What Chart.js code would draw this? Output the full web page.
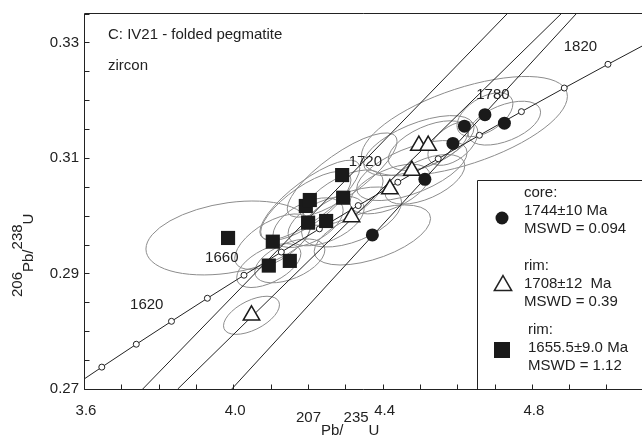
<!DOCTYPE html>
<html>
<head>
<meta charset="utf-8">
<script src="https://cdn.jsdelivr.net/npm/chart.js@4.4.1/dist/chart.umd.min.js"></script>
<style>
  html, body { margin: 0; padding: 0; background: #fff; }
  #wrap { width: 642px; height: 438px; position: relative; }
</style>
</head>
<body>
<div id="wrap"><canvas id="concordia"></canvas></div>
<script>
// concordia curve, 20 Ma steps (207Pb/235U, 206Pb/238U)
const concAges = [1540, 1560, 1580, 1600, 1620, 1640, 1660, 1680, 1700, 1720, 1740, 1760, 1780, 1800, 1820, 1840];
const concX = [3.5570, 3.6477, 3.7401, 3.8344, 3.9306, 4.0287, 4.1287, 4.2307, 4.3348, 4.4409, 4.5491, 4.6595, 4.7721, 4.8869, 5.0040, 5.1234];
const concY = [0.26985, 0.27379, 0.27775, 0.28172, 0.28571, 0.28970, 0.29371, 0.29773, 0.30176, 0.30580, 0.30986, 0.31393, 0.31802, 0.32211, 0.32622, 0.33034];

// age labels along the curve
const ageLabels = ["1620", "1660", "1720", "1780", "1820"];
const ageLabelX = [3.7681, 3.9692, 4.3539, 4.6957, 4.9302];
const ageLabelY = [0.28457, 0.29270, 0.30934, 0.32096, 0.32927];

// discordia lines (end points)
const discSqX = [3.7574, 4.7359];
const discSqY = [0.2700, 0.3351];
const discTriX = [3.8512, 4.8807];
const discTriY = [0.2700, 0.3351];
const discCoreX = [3.9960, 4.9209];
const discCoreY = [0.2700, 0.3351];

// core (circles)
const coreX = [4.3727, 4.5134, 4.5885, 4.6193, 4.6743, 4.7265];
const coreY = [0.29667, 0.30630, 0.31252, 0.31551, 0.31750, 0.31603];
const coreErrX = [0.156, 0.107, 0.067, 0.276, 0.075, 0.097];
const coreErrY = [0.0052, 0.0043, 0.0038, 0.0086, 0.0038, 0.0038];
const coreRho = [0.55, 0.55, 0.5, 0.6, 0.5, 0.5];

// rim (triangles)
const triX = [4.0488, 4.3169, 4.4196, 4.4786, 4.4973, 4.5223];
const triY = [0.28276, 0.29978, 0.30462, 0.30782, 0.31214, 0.31214];
const triErrX = [0.075, 0.134, 0.107, 0.148, 0.148, 0.107];
const triErrY = [0.0033, 0.0052, 0.0043, 0.0052, 0.0052, 0.0043];
const triRho = [0.55, 0.5, 0.55, 0.6, 0.6, 0.55];

// rim (squares)
const sqX = [3.986, 4.1059, 4.0952, 4.1515, 4.2005, 4.2488, 4.1944, 4.2051, 4.2917, 4.2944];
const sqY = [0.29615, 0.29551, 0.29137, 0.29218, 0.29880, 0.29909, 0.30169, 0.30272, 0.30704, 0.30312];
const sqErrX = [0.220, 0.102, 0.086, 0.094, 0.094, 0.102, 0.121, 0.134, 0.147, 0.107];
const sqErrY = [0.0064, 0.0048, 0.0038, 0.0038, 0.0043, 0.0043, 0.0060, 0.0069, 0.0073, 0.0048];
const sqRho = [0.3, 0.6, 0.55, 0.5, 0.5, 0.5, 0.75, 0.8, 0.8, 0.6];

// ticks
const xTickLabels = ["3.6", "4.0", "4.4", "4.8"];
const yTickLabels = ["0.27", "0.29", "0.31", "0.33"];

const titleLines = ["C: IV21 - folded pegmatite", "zircon"];
const legendCore = ["core:", "1744\u00b110 Ma", "MSWD = 0.094"];
const legendTri = ["rim:", "1708\u00b112  Ma", "MSWD = 0.39"];
const legendSq = ["rim:", "1655.5\u00b19.0 Ma", "MSWD = 1.12"];

const INK = "#222";
Chart.defaults.font.family = "'Liberation Sans', Arial, Helvetica, sans-serif";
Chart.defaults.font.size = 15;
Chart.defaults.color = INK;

function pts(xs, ys) {
  return xs.map((x, i) => ({ x: x, y: ys[i] }));
}

function tickLabel(list, v) {
  const hit = list.find(l => Math.abs(Number(l) - v) < 1e-6);
  return hit === undefined ? "" : hit;
}

function drawEllipses(chart, xs, ys, ex, ey, rho) {
  const ctx = chart.ctx, sx = chart.scales.x, sy = chart.scales.y;
  for (let i = 0; i < xs.length; i++) {
    const cx = sx.getPixelForValue(xs[i]), cy = sy.getPixelForValue(ys[i]);
    const ax = sx.getPixelForValue(xs[i] + ex[i]) - cx;
    const ay = cy - sy.getPixelForValue(ys[i] + ey[i]);
    const r = rho[i], s = Math.sqrt(1 - r * r);
    ctx.save();
    ctx.transform(ax, -ay * r, 0, -ay * s, cx, cy);
    ctx.beginPath();
    ctx.arc(0, 0, 1, 0, Math.PI * 2);
    ctx.restore();
    ctx.stroke();
  }
}

// draws "207Pb/235U" style labels: numbers raised, letters lowered
function drawIsotope(ctx, parts, drop) {
  let x = 0;
  parts.forEach((p, i) => {
    ctx.fillText(p, x, i % 2 === 0 ? 0 : drop);
    x += ctx.measureText(p).width;
  });
}

const ellipsePlugin = {
  id: "ellipses",
  beforeDatasetsDraw(chart) {
    const ctx = chart.ctx, a = chart.chartArea;
    ctx.save();
    ctx.beginPath();
    ctx.rect(a.left, a.top, a.right - a.left, a.bottom - a.top);
    ctx.clip();
    ctx.strokeStyle = "#8c8c8c";
    ctx.lineWidth = 1;
    drawEllipses(chart, sqX, sqY, sqErrX, sqErrY, sqRho);
    drawEllipses(chart, triX, triY, triErrX, triErrY, triRho);
    drawEllipses(chart, coreX, coreY, coreErrX, coreErrY, coreRho);
    ctx.restore();
  }
};

const decorPlugin = {
  id: "decor",
  afterDatasetsDraw(chart) {
    const ctx = chart.ctx, a = chart.chartArea, sx = chart.scales.x, sy = chart.scales.y;
    ctx.save();
    ctx.fillStyle = INK;
    ctx.font = "15px 'Liberation Sans', Arial, sans-serif";
    ctx.textAlign = "center";
    ctx.textBaseline = "middle";
    ageLabels.forEach((t, i) => {
      ctx.fillText(t, sx.getPixelForValue(ageLabelX[i]), sy.getPixelForValue(ageLabelY[i]));
    });

    ctx.textAlign = "left";
    ctx.textBaseline = "alphabetic";
    ctx.fillText(titleLines[0], 108, 39);
    ctx.fillText(titleLines[1], 108, 70);

    // legend box
    const bx = 477.5, by = 180.5;
    ctx.fillStyle = "#fff";
    ctx.fillRect(bx, by, a.right - bx + 2, a.bottom - by);
    ctx.strokeStyle = INK;
    ctx.lineWidth = 1;
    ctx.beginPath();
    ctx.moveTo(bx, a.bottom);
    ctx.lineTo(bx, by);
    ctx.lineTo(a.right + 2, by);
    ctx.stroke();

    ctx.fillStyle = INK;
    legendCore.forEach((t, i) => ctx.fillText(t, 524, 197 + i * 18));
    legendTri.forEach((t, i) => ctx.fillText(t, 524, 270 + i * 18));
    legendSq.forEach((t, i) => ctx.fillText(t, 528, 334 + i * 18));

    // legend markers
    ctx.fillStyle = "#1a1a1a";
    ctx.beginPath();
    ctx.arc(502, 218, 6.5, 0, Math.PI * 2);
    ctx.fill();
    ctx.fillRect(494, 342, 16, 16);
    ctx.beginPath();
    const r = 10, tx = 503, ty = 285.5;
    ctx.moveTo(tx, ty - r);
    ctx.lineTo(tx + r * 0.866, ty + r / 2);
    ctx.lineTo(tx - r * 0.866, ty + r / 2);
    ctx.closePath();
    ctx.fillStyle = "#fff";
    ctx.fill();
    ctx.lineWidth = 1.5;
    ctx.stroke();
    ctx.restore();
  },
  afterDraw(chart) {
    const ctx = chart.ctx, a = chart.chartArea, sx = chart.scales.x, sy = chart.scales.y;
    ctx.save();
    ctx.strokeStyle = INK;
    ctx.lineWidth = 1;
    const L = Math.round(a.left) + 0.5, T = Math.round(a.top) + 0.5, B = Math.round(a.bottom) + 0.5;
    ctx.beginPath();
    ctx.moveTo(a.right + 2, T);
    ctx.lineTo(L, T);
    ctx.lineTo(L, B);
    ctx.lineTo(a.right + 2, B);
    // inward tick marks
    sx.ticks.forEach(t => {
      const p = Math.round(sx.getPixelForValue(t.value)) + 0.5;
      ctx.moveTo(p, B);
      ctx.lineTo(p, B - 5);
    });
    sy.ticks.forEach(t => {
      const p = Math.round(sy.getPixelForValue(t.value)) + 0.5;
      ctx.moveTo(L, p);
      ctx.lineTo(L + 5, p);
    });
    ctx.stroke();

    // axis titles
    ctx.fillStyle = INK;
    ctx.font = "15px 'Liberation Sans', Arial, sans-serif";
    ctx.textAlign = "left";
    ctx.textBaseline = "alphabetic";
    ctx.save();
    ctx.translate(296, 422);
    drawIsotope(ctx, ["207", "Pb/", "235", "U"], 13);
    ctx.restore();
    ctx.save();
    ctx.translate(22, 297);
    ctx.rotate(-Math.PI / 2);
    drawIsotope(ctx, ["206", "Pb/", "238", "U"], 11);
    ctx.restore();
    ctx.restore();
  }
};

const lineStyle = {
  showLine: true,
  pointRadius: 0,
  borderColor: INK,
  borderWidth: 1,
  fill: false,
  order: 5
};

new Chart(document.getElementById("concordia"), {
  type: "scatter",
  data: {
    datasets: [
      {
        label: "core",
        data: pts(coreX, coreY),
        pointStyle: "circle",
        pointRadius: 6.5,
        backgroundColor: "#1a1a1a",
        borderColor: "#1a1a1a",
        borderWidth: 0,
        order: 0
      },
      {
        label: "rim (triangles)",
        data: pts(triX, triY),
        pointStyle: "triangle",
        pointRadius: 9.5,
        backgroundColor: "#fff",
        borderColor: "#1a1a1a",
        borderWidth: 1.5,
        order: 1
      },
      {
        label: "rim (squares)",
        data: pts(sqX, sqY),
        pointStyle: "rect",
        pointRadius: 10,
        backgroundColor: "#1a1a1a",
        borderColor: "#1a1a1a",
        borderWidth: 0,
        order: 2
      },
      {
        label: "concordia",
        data: pts(concX, concY),
        showLine: true,
        pointRadius: 3,
        pointBackgroundColor: "#fff",
        pointBorderColor: INK,
        pointBorderWidth: 1,
        borderColor: INK,
        borderWidth: 1,
        fill: false,
        order: 3
      },
      Object.assign({ label: "discordia sq", data: pts(discSqX, discSqY) }, lineStyle),
      Object.assign({ label: "discordia tri", data: pts(discTriX, discTriY) }, lineStyle),
      Object.assign({ label: "discordia core", data: pts(discCoreX, discCoreY) }, lineStyle)
    ]
  },
  options: {
    animation: false,
    responsive: true,
    maintainAspectRatio: false,
    events: [],
    layout: { autoPadding: false, padding: { top: 13, right: 0, bottom: 0, left: 0 } },
    plugins: {
      legend: { display: false },
      tooltip: { enabled: false }
    },
    scales: {
      x: {
        type: "linear",
        min: 3.6,
        max: 5.0952,
        grid: { display: false, drawTicks: false },
        border: { display: false },
        ticks: {
          stepSize: 0.1,
          includeBounds: false,
          autoSkip: false,
          maxRotation: 0,
          padding: 13,
          labelOffset: 2,
          color: INK,
          font: { size: 15 },
          callback: v => tickLabel(xTickLabels, v)
        },
        afterFit: s => { s.height = 49; s.paddingLeft = 0; s.paddingRight = 0; }
      },
      y: {
        type: "linear",
        min: 0.27,
        max: 0.3351,
        grid: { display: false, drawTicks: false },
        border: { display: false },
        ticks: {
          stepSize: 0.005,
          includeBounds: false,
          autoSkip: false,
          padding: 5,
          color: INK,
          font: { size: 15 },
          callback: v => tickLabel(yTickLabels, v)
        },
        afterFit: s => { s.width = 84; s.paddingTop = 0; s.paddingBottom = 0; }
      }
    }
  },
  plugins: [ellipsePlugin, decorPlugin]
});
</script>
</body>
</html>
